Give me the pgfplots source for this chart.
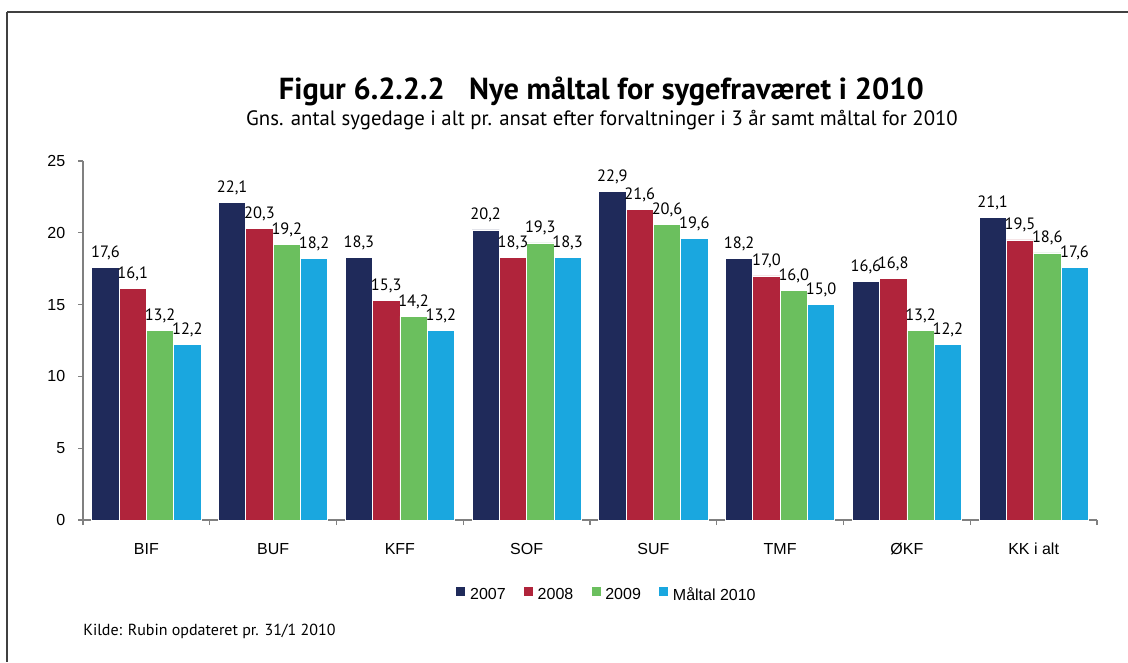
\documentclass[border=0pt]{standalone}
\usepackage{pgfplots}
\pgfplotsset{compat=1.18}
\usepackage{fontspec}
\setmainfont{PT Sans}
\newfontfamily\arialf{Liberation Sans}
\definecolor{cnavy}{RGB}{31,42,90}
\definecolor{cred}{RGB}{176,36,59}
\definecolor{cgreen}{RGB}{107,191,94}
\definecolor{cblue}{RGB}{26,167,223}
\definecolor{caxis}{RGB}{128,128,128}
\definecolor{cframe}{RGB}{64,64,64}
\begin{document}
\begin{tikzpicture}
\path[use as bounding box] (0,0) rectangle (846pt,496.5pt);
\draw[line width=1.5pt, color=cframe] (5.25pt,487.5pt) -- (846pt,487.5pt);
\draw[line width=1.1pt, color=cframe] (5.25pt,487.5pt) -- (5.25pt,0pt);
\node[anchor=base, font=\bfseries\fontsize{22.8}{25}\selectfont] at (451pt,421.5pt) {Figur 6.2.2.2\hspace{0.8em}Nye måltal for sygefraværet i 2010};
\node[anchor=base, font=\fontsize{15.6}{17}\selectfont] at (451.5pt,402.75pt) {Gns. antal sygedage i alt pr. ansat efter forvaltninger i 3 år samt måltal for 2010};
\node[anchor=west, inner sep=0pt, font=\fontsize{12}{14}\selectfont] at (62.25pt,23.25pt) {Kilde: Rubin opdateret pr. 31/1 2010};
\begin{axis}[
  at={(62.25pt,106.5pt)}, anchor=south west,
  scale only axis, width=760.5pt, height=269.25pt,
  xmin=-0.5, xmax=7.5, ymin=0, ymax=25,
  axis x line*=bottom, axis y line*=left,
  axis line style={draw=caxis, line width=1.2pt},
  ytick={0,5,10,15,20,25},
  xtick={0,1,2,3,4,5,6,7},
  xticklabels={BIF,BUF,KFF,SOF,SUF,TMF,ØKF,KK i alt},
  minor xtick={-0.5,0.5,1.5,2.5,3.5,4.5,5.5,6.5,7.5},
  major x tick style={draw=none},
  tick align=outside,
  major tick length=3.75pt, minor tick length=3.75pt,
  tick style={draw=caxis, line width=0.8pt},
  tick label style={font=\arialf\fontsize{12}{14}\selectfont},
  yticklabel style={xshift=-6pt},
  xticklabel style={yshift=-10pt},
  /pgf/number format/assume math mode=true,
  ybar, bar width=0.2154,
  every axis plot/.append style={draw=white, line width=0.5pt},
  nodes near coords={\pgfmathprintnumber[fixed,fixed zerofill,precision=1,use comma,assume math mode=true]{\pgfplotspointmeta}},
  every node near coord/.append style={font=\fontsize{12.3}{14}\selectfont, anchor=base, inner sep=0pt, yshift=7.5pt, text=black},
  legend style={at={(0.516,-0.209)}, anchor=center, draw=none, fill=none,
    legend columns=-1, font=\arialf\fontsize{12}{14}\selectfont,
    nodes={inner xsep=1pt},
    /tikz/every odd column/.append style={column sep=2pt},
    /tikz/every even column/.append style={column sep=12pt}},
  legend image code/.code={\fill[#1] (0pt,-1pt) rectangle (7.5pt,6.5pt);},
]
\addplot[fill=cnavy, bar shift=-0.3231] coordinates {(0,17.6) (1,22.1) (2,18.3) (3,20.2) (4,22.9) (5,18.2) (6,16.6) (7,21.1)};
\addplot[fill=cred, bar shift=-0.1077] coordinates {(0,16.1) (1,20.3) (2,15.3) (3,18.3) (4,21.6) (5,17.0) (6,16.8) (7,19.5)};
\addplot[fill=cgreen, bar shift=0.1077] coordinates {(0,13.2) (1,19.2) (2,14.2) (3,19.3) (4,20.6) (5,16.0) (6,13.2) (7,18.6)};
\addplot[fill=cblue, bar shift=0.3231] coordinates {(0,12.2) (1,18.2) (2,13.2) (3,18.3) (4,19.6) (5,15.0) (6,12.2) (7,17.6)};
\legend{2007,2008,2009,Måltal 2010}
\end{axis}
\end{tikzpicture}
\end{document}
